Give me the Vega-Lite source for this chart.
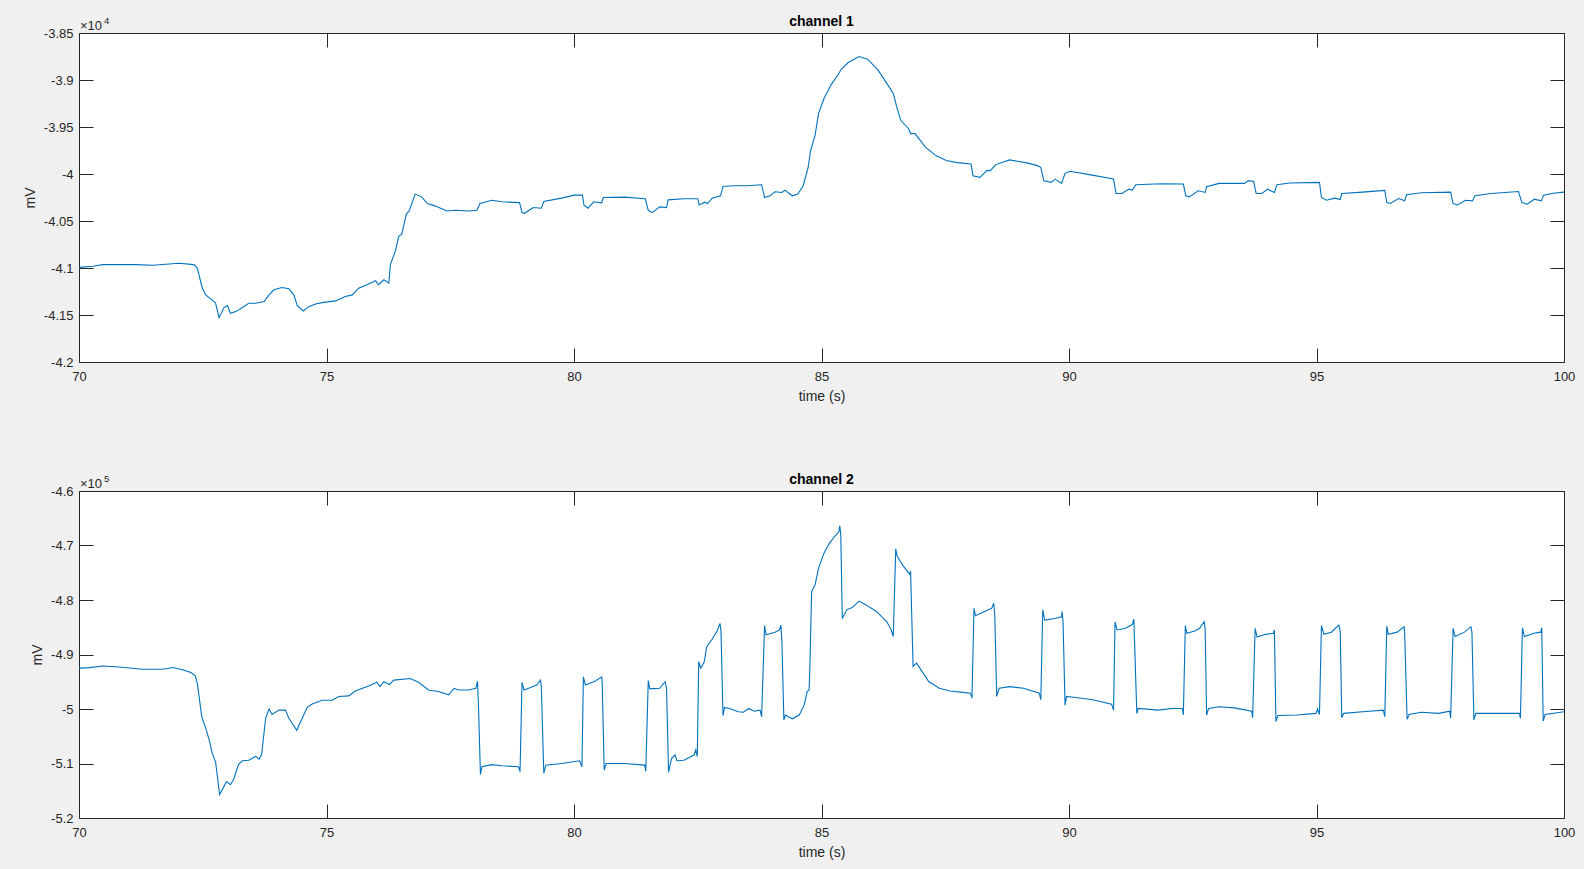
{
  "$schema": "https://vega.github.io/schema/vega-lite/v6.json",
  "background": "#f0f0f0",
  "padding": {"left": 22, "top": 14, "right": 11, "bottom": 12},
  "spacing": 129,
  "bounds": "flush",
  "datasets": {
    "ch1": [
      {"t": 70.00, "v": -40993}, {"t": 70.28, "v": -40982}, {"t": 70.48, "v": -40964}, {"t": 71.15, "v": -40964},
      {"t": 71.49, "v": -40971}, {"t": 72.02, "v": -40950}, {"t": 72.32, "v": -40964}, {"t": 72.39, "v": -41000},
      {"t": 72.49, "v": -41214}, {"t": 72.56, "v": -41286}, {"t": 72.73, "v": -41357}, {"t": 72.76, "v": -41375},
      {"t": 72.83, "v": -41528}, {"t": 72.93, "v": -41421}, {"t": 73.00, "v": -41400}, {"t": 73.06, "v": -41482},
      {"t": 73.17, "v": -41464}, {"t": 73.30, "v": -41421}, {"t": 73.43, "v": -41375}, {"t": 73.57, "v": -41375},
      {"t": 73.74, "v": -41357}, {"t": 73.84, "v": -41286}, {"t": 73.94, "v": -41232}, {"t": 74.10, "v": -41207},
      {"t": 74.24, "v": -41221}, {"t": 74.34, "v": -41286}, {"t": 74.41, "v": -41400}, {"t": 74.53, "v": -41457},
      {"t": 74.64, "v": -41411}, {"t": 74.78, "v": -41382}, {"t": 74.91, "v": -41368}, {"t": 75.18, "v": -41350},
      {"t": 75.38, "v": -41303}, {"t": 75.52, "v": -41286}, {"t": 75.65, "v": -41214}, {"t": 75.85, "v": -41171},
      {"t": 75.99, "v": -41136}, {"t": 76.05, "v": -41178}, {"t": 76.16, "v": -41125}, {"t": 76.26, "v": -41161},
      {"t": 76.29, "v": -40964}, {"t": 76.39, "v": -40821}, {"t": 76.46, "v": -40661}, {"t": 76.52, "v": -40643},
      {"t": 76.61, "v": -40429}, {"t": 76.67, "v": -40393}, {"t": 76.79, "v": -40214}, {"t": 76.92, "v": -40243},
      {"t": 77.04, "v": -40314}, {"t": 77.19, "v": -40339}, {"t": 77.43, "v": -40393}, {"t": 77.60, "v": -40386},
      {"t": 77.87, "v": -40393}, {"t": 78.04, "v": -40386}, {"t": 78.10, "v": -40314}, {"t": 78.34, "v": -40279},
      {"t": 78.54, "v": -40296}, {"t": 78.90, "v": -40304}, {"t": 78.95, "v": -40411}, {"t": 79.00, "v": -40418},
      {"t": 79.18, "v": -40357}, {"t": 79.34, "v": -40364}, {"t": 79.39, "v": -40293}, {"t": 79.75, "v": -40257},
      {"t": 80.00, "v": -40225}, {"t": 80.17, "v": -40225}, {"t": 80.20, "v": -40329}, {"t": 80.28, "v": -40364},
      {"t": 80.40, "v": -40296}, {"t": 80.56, "v": -40307}, {"t": 80.59, "v": -40250}, {"t": 81.02, "v": -40246},
      {"t": 81.44, "v": -40264}, {"t": 81.50, "v": -40386}, {"t": 81.58, "v": -40411}, {"t": 81.73, "v": -40350},
      {"t": 81.87, "v": -40357}, {"t": 81.90, "v": -40275}, {"t": 82.22, "v": -40264}, {"t": 82.50, "v": -40264},
      {"t": 82.53, "v": -40329}, {"t": 82.64, "v": -40300}, {"t": 82.70, "v": -40314}, {"t": 82.79, "v": -40257},
      {"t": 82.96, "v": -40232}, {"t": 83.01, "v": -40132}, {"t": 83.21, "v": -40125}, {"t": 83.49, "v": -40125},
      {"t": 83.79, "v": -40114}, {"t": 83.85, "v": -40250}, {"t": 83.96, "v": -40232}, {"t": 84.06, "v": -40189},
      {"t": 84.20, "v": -40196}, {"t": 84.26, "v": -40171}, {"t": 84.41, "v": -40232}, {"t": 84.52, "v": -40214},
      {"t": 84.63, "v": -40125}, {"t": 84.73, "v": -39929}, {"t": 84.78, "v": -39750}, {"t": 84.87, "v": -39589},
      {"t": 84.94, "v": -39357}, {"t": 85.05, "v": -39197}, {"t": 85.19, "v": -39054}, {"t": 85.33, "v": -38947},
      {"t": 85.40, "v": -38886}, {"t": 85.54, "v": -38814}, {"t": 85.76, "v": -38750}, {"t": 85.93, "v": -38779},
      {"t": 86.14, "v": -38893}, {"t": 86.32, "v": -39036}, {"t": 86.45, "v": -39143}, {"t": 86.52, "v": -39286},
      {"t": 86.60, "v": -39429}, {"t": 86.76, "v": -39518}, {"t": 86.80, "v": -39571}, {"t": 86.89, "v": -39571},
      {"t": 87.10, "v": -39714}, {"t": 87.31, "v": -39804}, {"t": 87.52, "v": -39857}, {"t": 87.74, "v": -39879},
      {"t": 88.02, "v": -39893}, {"t": 88.06, "v": -40018}, {"t": 88.20, "v": -40036}, {"t": 88.34, "v": -39964},
      {"t": 88.41, "v": -39964}, {"t": 88.52, "v": -39900}, {"t": 88.80, "v": -39850}, {"t": 89.15, "v": -39882},
      {"t": 89.36, "v": -39911}, {"t": 89.43, "v": -39929}, {"t": 89.49, "v": -40071}, {"t": 89.64, "v": -40089},
      {"t": 89.72, "v": -40054}, {"t": 89.85, "v": -40100}, {"t": 89.92, "v": -39993}, {"t": 90.02, "v": -39971},
      {"t": 90.41, "v": -40007}, {"t": 90.90, "v": -40054}, {"t": 90.95, "v": -40207}, {"t": 91.07, "v": -40207},
      {"t": 91.21, "v": -40161}, {"t": 91.28, "v": -40171}, {"t": 91.35, "v": -40114}, {"t": 91.87, "v": -40104},
      {"t": 92.31, "v": -40107}, {"t": 92.36, "v": -40232}, {"t": 92.43, "v": -40243}, {"t": 92.61, "v": -40179},
      {"t": 92.75, "v": -40196}, {"t": 92.78, "v": -40136}, {"t": 93.03, "v": -40100}, {"t": 93.55, "v": -40100},
      {"t": 93.62, "v": -40071}, {"t": 93.73, "v": -40079}, {"t": 93.78, "v": -40207}, {"t": 93.90, "v": -40207},
      {"t": 94.01, "v": -40161}, {"t": 94.15, "v": -40196}, {"t": 94.20, "v": -40114}, {"t": 94.46, "v": -40096},
      {"t": 95.06, "v": -40089}, {"t": 95.10, "v": -40250}, {"t": 95.20, "v": -40279}, {"t": 95.37, "v": -40257},
      {"t": 95.48, "v": -40271}, {"t": 95.51, "v": -40207}, {"t": 95.93, "v": -40193}, {"t": 96.38, "v": -40175},
      {"t": 96.42, "v": -40304}, {"t": 96.49, "v": -40314}, {"t": 96.66, "v": -40261}, {"t": 96.78, "v": -40286},
      {"t": 96.82, "v": -40221}, {"t": 97.12, "v": -40200}, {"t": 97.71, "v": -40193}, {"t": 97.76, "v": -40314},
      {"t": 97.85, "v": -40329}, {"t": 98.01, "v": -40279}, {"t": 98.15, "v": -40286}, {"t": 98.20, "v": -40232},
      {"t": 98.52, "v": -40207}, {"t": 99.08, "v": -40186}, {"t": 99.15, "v": -40304}, {"t": 99.26, "v": -40321},
      {"t": 99.40, "v": -40268}, {"t": 99.54, "v": -40286}, {"t": 99.59, "v": -40225}, {"t": 99.78, "v": -40204},
      {"t": 100.00, "v": -40193}
    ],
    "ch2": [
      {"t": 70.00, "v": -492500}, {"t": 70.21, "v": -492400}, {"t": 70.48, "v": -492100}, {"t": 70.81, "v": -492300},
      {"t": 71.28, "v": -492700}, {"t": 71.69, "v": -492700}, {"t": 71.90, "v": -492400}, {"t": 72.09, "v": -492800},
      {"t": 72.26, "v": -493300}, {"t": 72.35, "v": -493900}, {"t": 72.39, "v": -495300}, {"t": 72.43, "v": -498000},
      {"t": 72.48, "v": -501400}, {"t": 72.56, "v": -503500}, {"t": 72.64, "v": -506000}, {"t": 72.69, "v": -508100},
      {"t": 72.76, "v": -509800}, {"t": 72.80, "v": -512700}, {"t": 72.84, "v": -515700}, {"t": 72.90, "v": -514700},
      {"t": 72.98, "v": -513300}, {"t": 73.06, "v": -513900}, {"t": 73.13, "v": -512800}, {"t": 73.22, "v": -510200},
      {"t": 73.30, "v": -509500}, {"t": 73.43, "v": -509400}, {"t": 73.57, "v": -508700}, {"t": 73.64, "v": -509200},
      {"t": 73.69, "v": -508300}, {"t": 73.77, "v": -501700}, {"t": 73.84, "v": -500000}, {"t": 73.90, "v": -501000},
      {"t": 74.04, "v": -500200}, {"t": 74.17, "v": -500200}, {"t": 74.24, "v": -501700}, {"t": 74.32, "v": -502800},
      {"t": 74.40, "v": -503900}, {"t": 74.46, "v": -502600}, {"t": 74.51, "v": -501700}, {"t": 74.61, "v": -499700},
      {"t": 74.71, "v": -499100}, {"t": 74.91, "v": -498400}, {"t": 75.11, "v": -498400}, {"t": 75.25, "v": -497700},
      {"t": 75.45, "v": -497600}, {"t": 75.58, "v": -496700}, {"t": 75.85, "v": -495800}, {"t": 76.02, "v": -495100},
      {"t": 76.08, "v": -495900}, {"t": 76.16, "v": -495000}, {"t": 76.27, "v": -495500}, {"t": 76.36, "v": -494700},
      {"t": 76.69, "v": -494400}, {"t": 76.86, "v": -495100}, {"t": 77.06, "v": -496500}, {"t": 77.26, "v": -496800},
      {"t": 77.47, "v": -497400}, {"t": 77.53, "v": -496700}, {"t": 77.58, "v": -496200}, {"t": 77.67, "v": -496500},
      {"t": 77.87, "v": -496500}, {"t": 78.02, "v": -496200}, {"t": 78.05, "v": -494900}, {"t": 78.07, "v": -499300},
      {"t": 78.11, "v": -512000}, {"t": 78.14, "v": -510600}, {"t": 78.34, "v": -510200}, {"t": 78.54, "v": -510400},
      {"t": 78.88, "v": -510600}, {"t": 78.91, "v": -511500}, {"t": 78.95, "v": -495100}, {"t": 78.99, "v": -496500},
      {"t": 79.11, "v": -496100}, {"t": 79.25, "v": -495600}, {"t": 79.32, "v": -494700}, {"t": 79.34, "v": -495900},
      {"t": 79.39, "v": -511800}, {"t": 79.43, "v": -510300}, {"t": 79.75, "v": -510000}, {"t": 80.11, "v": -509500},
      {"t": 80.16, "v": -510600}, {"t": 80.19, "v": -494100}, {"t": 80.23, "v": -495600}, {"t": 80.42, "v": -494900},
      {"t": 80.56, "v": -494100}, {"t": 80.57, "v": -495300}, {"t": 80.61, "v": -511200}, {"t": 80.65, "v": -510000},
      {"t": 81.02, "v": -510000}, {"t": 81.43, "v": -510300}, {"t": 81.45, "v": -511400}, {"t": 81.50, "v": -494800},
      {"t": 81.53, "v": -496300}, {"t": 81.73, "v": -496200}, {"t": 81.84, "v": -495000}, {"t": 81.87, "v": -496200},
      {"t": 81.91, "v": -511600}, {"t": 81.97, "v": -509100}, {"t": 82.04, "v": -508400}, {"t": 82.08, "v": -509500},
      {"t": 82.22, "v": -509400}, {"t": 82.43, "v": -508400}, {"t": 82.46, "v": -507500}, {"t": 82.49, "v": -508700},
      {"t": 82.52, "v": -491300}, {"t": 82.56, "v": -492500}, {"t": 82.63, "v": -491400}, {"t": 82.68, "v": -488600},
      {"t": 82.79, "v": -487200}, {"t": 82.89, "v": -485700}, {"t": 82.95, "v": -484300}, {"t": 82.97, "v": -485800},
      {"t": 83.01, "v": -501200}, {"t": 83.04, "v": -499700}, {"t": 83.14, "v": -499900}, {"t": 83.32, "v": -500500},
      {"t": 83.42, "v": -500600}, {"t": 83.53, "v": -499900}, {"t": 83.64, "v": -500400}, {"t": 83.76, "v": -500200},
      {"t": 83.79, "v": -501400}, {"t": 83.85, "v": -484700}, {"t": 83.88, "v": -486400}, {"t": 84.06, "v": -485900},
      {"t": 84.15, "v": -485500}, {"t": 84.18, "v": -484600}, {"t": 84.20, "v": -487600}, {"t": 84.24, "v": -502000},
      {"t": 84.27, "v": -501100}, {"t": 84.41, "v": -501800}, {"t": 84.55, "v": -501100}, {"t": 84.65, "v": -499300},
      {"t": 84.71, "v": -496800}, {"t": 84.75, "v": -496500}, {"t": 84.77, "v": -490700}, {"t": 84.80, "v": -478500},
      {"t": 84.87, "v": -477200}, {"t": 84.94, "v": -474200}, {"t": 85.05, "v": -471400}, {"t": 85.16, "v": -469600},
      {"t": 85.26, "v": -468400}, {"t": 85.35, "v": -467500}, {"t": 85.37, "v": -466400}, {"t": 85.39, "v": -468100},
      {"t": 85.42, "v": -483400}, {"t": 85.51, "v": -481800}, {"t": 85.62, "v": -481400}, {"t": 85.76, "v": -480200},
      {"t": 85.90, "v": -480900}, {"t": 86.11, "v": -482100}, {"t": 86.32, "v": -484000}, {"t": 86.41, "v": -485500},
      {"t": 86.45, "v": -486700}, {"t": 86.50, "v": -470600}, {"t": 86.53, "v": -472000}, {"t": 86.64, "v": -473600},
      {"t": 86.74, "v": -474800}, {"t": 86.78, "v": -475300}, {"t": 86.80, "v": -474700}, {"t": 86.85, "v": -492200},
      {"t": 86.92, "v": -491600}, {"t": 87.03, "v": -493100}, {"t": 87.17, "v": -495000}, {"t": 87.38, "v": -496200},
      {"t": 87.60, "v": -496700}, {"t": 87.81, "v": -496900}, {"t": 88.01, "v": -497100}, {"t": 88.04, "v": -498000},
      {"t": 88.08, "v": -481500}, {"t": 88.11, "v": -482900}, {"t": 88.23, "v": -482400}, {"t": 88.37, "v": -481800},
      {"t": 88.44, "v": -481500}, {"t": 88.48, "v": -480600}, {"t": 88.50, "v": -482800}, {"t": 88.54, "v": -497700},
      {"t": 88.59, "v": -496200}, {"t": 88.80, "v": -495900}, {"t": 89.08, "v": -496200}, {"t": 89.40, "v": -497100},
      {"t": 89.43, "v": -498300}, {"t": 89.47, "v": -481800}, {"t": 89.51, "v": -483700}, {"t": 89.71, "v": -483400},
      {"t": 89.85, "v": -483100}, {"t": 89.86, "v": -482100}, {"t": 89.88, "v": -484000}, {"t": 89.92, "v": -499300},
      {"t": 89.95, "v": -497700}, {"t": 90.13, "v": -497900}, {"t": 90.48, "v": -498300}, {"t": 90.86, "v": -499100},
      {"t": 90.90, "v": -500200}, {"t": 90.93, "v": -484000}, {"t": 90.97, "v": -485500}, {"t": 91.14, "v": -485200},
      {"t": 91.28, "v": -484500}, {"t": 91.31, "v": -483500}, {"t": 91.37, "v": -500800}, {"t": 91.40, "v": -499900},
      {"t": 91.80, "v": -500200}, {"t": 92.08, "v": -499900}, {"t": 92.29, "v": -499900}, {"t": 92.31, "v": -501100},
      {"t": 92.35, "v": -484700}, {"t": 92.38, "v": -486100}, {"t": 92.54, "v": -485700}, {"t": 92.64, "v": -485200},
      {"t": 92.73, "v": -484000}, {"t": 92.75, "v": -485200}, {"t": 92.78, "v": -501100}, {"t": 92.82, "v": -499900},
      {"t": 93.03, "v": -499600}, {"t": 93.34, "v": -499800}, {"t": 93.69, "v": -500400}, {"t": 93.71, "v": -501600},
      {"t": 93.76, "v": -485200}, {"t": 93.80, "v": -486800}, {"t": 93.97, "v": -486300}, {"t": 94.13, "v": -486100},
      {"t": 94.15, "v": -485500}, {"t": 94.18, "v": -502300}, {"t": 94.22, "v": -501200}, {"t": 94.60, "v": -501100},
      {"t": 94.99, "v": -500800}, {"t": 95.02, "v": -500000}, {"t": 95.06, "v": -501000}, {"t": 95.10, "v": -484700},
      {"t": 95.15, "v": -486300}, {"t": 95.30, "v": -485900}, {"t": 95.45, "v": -484600}, {"t": 95.48, "v": -485800},
      {"t": 95.51, "v": -501600}, {"t": 95.55, "v": -500800}, {"t": 95.93, "v": -500500}, {"t": 96.35, "v": -500200},
      {"t": 96.38, "v": -501400}, {"t": 96.42, "v": -484800}, {"t": 96.45, "v": -486300}, {"t": 96.63, "v": -485900},
      {"t": 96.77, "v": -484900}, {"t": 96.78, "v": -485800}, {"t": 96.83, "v": -501900}, {"t": 96.87, "v": -501000},
      {"t": 97.12, "v": -500600}, {"t": 97.47, "v": -500800}, {"t": 97.69, "v": -500400}, {"t": 97.71, "v": -501700},
      {"t": 97.76, "v": -485200}, {"t": 97.80, "v": -486700}, {"t": 97.99, "v": -485900}, {"t": 98.12, "v": -484900},
      {"t": 98.14, "v": -485900}, {"t": 98.18, "v": -502000}, {"t": 98.22, "v": -500800}, {"t": 98.66, "v": -500800},
      {"t": 99.10, "v": -500800}, {"t": 99.12, "v": -501700}, {"t": 99.16, "v": -485100}, {"t": 99.20, "v": -486700},
      {"t": 99.39, "v": -486100}, {"t": 99.53, "v": -485900}, {"t": 99.55, "v": -485100}, {"t": 99.58, "v": -502200},
      {"t": 99.62, "v": -501000}, {"t": 100.00, "v": -500500}
    ]
  },
  "vconcat": [
    {
      "width": 1485,
      "height": 329,
      "title": {"text": "channel 1"},
      "layer": [
        {
          "data": {"name": "ch1"},
          "mark": {"type": "line", "color": "#0072bd", "strokeWidth": 1.1},
          "encoding": {
            "x": {
              "field": "t", "type": "quantitative",
              "scale": {"domain": [70, 100], "nice": false, "zero": false},
              "axis": {"orient": "bottom", "values": [70, 75, 80, 85, 90, 95, 100], "format": "d", "title": "time (s)", "labelPadding": 22, "titlePadding": 6}
            },
            "y": {
              "field": "v", "type": "quantitative",
              "scale": {"domain": [-42000, -38500], "nice": false, "zero": false},
              "axis": {"orient": "left", "values": [-42000, -41500, -41000, -40500, -40000, -39500, -39000, -38500], "labelExpr": "'' + datum.value / 10000", "title": "mV", "labelPadding": 20, "titlePadding": 6}
            }
          }
        },
        {
          "data": {"values": [{"label": "×10"}]},
          "mark": {"type": "text", "align": "left", "baseline": "alphabetic", "dx": 1, "dy": -3, "fontSize": 13, "color": "#262626"},
          "encoding": {
            "text": {"field": "label"},
            "x": {"datum": 70, "type": "quantitative", "axis": {"orient": "top", "values": [70, 75, 80, 85, 90, 95, 100], "labels": false, "title": null}},
            "y": {"datum": -38500, "type": "quantitative", "axis": {"orient": "right", "values": [-42000, -41500, -41000, -40500, -40000, -39500, -39000, -38500], "labels": false, "title": null}}
          }
        },
        {
          "data": {"values": [{"label": "4"}]},
          "mark": {"type": "text", "align": "left", "baseline": "alphabetic", "dx": 25, "dy": -9, "fontSize": 9.5, "color": "#262626"},
          "encoding": {
            "text": {"field": "label"},
            "x": {"datum": 70, "type": "quantitative", "axis": null},
            "y": {"datum": -38500, "type": "quantitative", "axis": null}
          }
        }
      ],
      "resolve": {"axis": {"x": "independent", "y": "independent"}}
    },
    {
      "width": 1485,
      "height": 327,
      "title": {"text": "channel 2"},
      "layer": [
        {
          "data": {"name": "ch2"},
          "mark": {"type": "line", "color": "#0072bd", "strokeWidth": 1.1},
          "encoding": {
            "x": {
              "field": "t", "type": "quantitative",
              "scale": {"domain": [70, 100], "nice": false, "zero": false},
              "axis": {"orient": "bottom", "values": [70, 75, 80, 85, 90, 95, 100], "format": "d", "title": "time (s)", "labelPadding": 22, "titlePadding": 6}
            },
            "y": {
              "field": "v", "type": "quantitative",
              "scale": {"domain": [-520000, -460000], "nice": false, "zero": false},
              "axis": {"orient": "left", "values": [-520000, -510000, -500000, -490000, -480000, -470000, -460000], "labelExpr": "'' + datum.value / 100000", "title": "mV", "labelPadding": 20, "titlePadding": 6}
            }
          }
        },
        {
          "data": {"values": [{"label": "×10"}]},
          "mark": {"type": "text", "align": "left", "baseline": "alphabetic", "dx": 1, "dy": -3, "fontSize": 13, "color": "#262626"},
          "encoding": {
            "text": {"field": "label"},
            "x": {"datum": 70, "type": "quantitative", "axis": {"orient": "top", "values": [70, 75, 80, 85, 90, 95, 100], "labels": false, "title": null}},
            "y": {"datum": -460000, "type": "quantitative", "axis": {"orient": "right", "values": [-520000, -510000, -500000, -490000, -480000, -470000, -460000], "labels": false, "title": null}}
          }
        },
        {
          "data": {"values": [{"label": "5"}]},
          "mark": {"type": "text", "align": "left", "baseline": "alphabetic", "dx": 25, "dy": -9, "fontSize": 9.5, "color": "#262626"},
          "encoding": {
            "text": {"field": "label"},
            "x": {"datum": 70, "type": "quantitative", "axis": null},
            "y": {"datum": -460000, "type": "quantitative", "axis": null}
          }
        }
      ],
      "resolve": {"axis": {"x": "independent", "y": "independent"}}
    }
  ],
  "config": {
    "font": "Liberation Sans",
    "view": {"stroke": "#262626", "strokeWidth": 1, "fill": "white"},
    "axis": {
      "domain": false,
      "grid": false,
      "ticks": true,
      "tickColor": "#262626",
      "tickWidth": 1,
      "tickSize": -14,
      "labelFont": "Liberation Sans",
      "labelFontSize": 13,
      "labelColor": "#262626",
      "labelFlush": false,
      "labelOverlap": false,
      "titleFont": "Liberation Sans",
      "titleFontSize": 14,
      "titleFontWeight": "normal",
      "titleColor": "#262626"
    },
    "title": {
      "font": "Liberation Sans",
      "fontSize": 14,
      "fontWeight": "bold",
      "color": "#000000",
      "anchor": "middle",
      "frame": "group",
      "offset": -13
    }
  }
}
